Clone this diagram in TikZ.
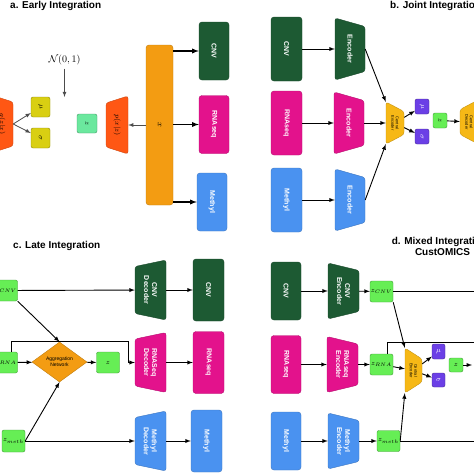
\documentclass[tikz,border=0pt]{standalone}
\usepackage{fontspec}
\setsansfont{Liberation Sans}
\usepackage{amsmath}
\usetikzlibrary{arrows,calc,shapes.geometric,positioning}

\definecolor{cnvgreen}{HTML}{1D5A33}
\definecolor{rnapink}{HTML}{E3128C}
\definecolor{methblue}{HTML}{4A92F0}
\definecolor{xorange}{HTML}{F39C12}
\definecolor{decred}{HTML}{FF5714}
\definecolor{muyellow}{HTML}{D9CF12}
\definecolor{zmint}{HTML}{6BE89E}
\definecolor{latpurple}{HTML}{6B3FE6}
\definecolor{zgreen}{HTML}{66EE55}
\definecolor{centyellow}{HTML}{F6B816}

\tikzset{
    lbl/.style={font=\sffamily\bfseries\fontsize{7}{8}\selectfont},
    smalllbl/.style={font=\sffamily\fontsize{4}{4.6}\selectfont},
    mathlbl/.style={font=\fontsize{7}{8}\selectfont},
    title/.style={font=\sffamily\bfseries\fontsize{10}{11}\selectfont, inner sep=0pt},
    omicbox/.style={rectangle, rounded corners=3pt, rotate=-90, fill=#1, draw=#1!80!black,
        text=white, minimum width=58pt, minimum height=30pt, inner sep=0pt, lbl},
    trapbox/.style={rectangle, rotate=-90, inner sep=0pt, align=center, text=white, lbl},
    latent/.style={rectangle, rounded corners=2pt, fill=#1, draw=#1!65!black, inner sep=0pt,
        minimum width=23pt, minimum height=21pt, font=\fontsize{7}{8}\selectfont},
    arr/.style={->, >=latex, line width=0.9pt},
    garr/.style={->, >=latex, gray!60!black, line width=0.8pt}
}

% options, name, colour, x, y, half width, half length, inset, text
\newcommand{\encnode}[9]{%
    \filldraw[fill=#3, draw=#3!80!black, rounded corners=2.5pt]
        (#4-#6,#5-#7) -- (#4+#6,#5-#7+#8) -- (#4+#6,#5+#7-#8) -- (#4-#6,#5+#7) -- cycle;
    \node[trapbox, minimum width=2*#7, minimum height=2*#6, #1] (#2) at (#4,#5) {#9};
}
\newcommand{\decnode}[9]{%
    \filldraw[fill=#3, draw=#3!80!black, rounded corners=2.5pt]
        (#4-#6,#5-#7+#8) -- (#4+#6,#5-#7) -- (#4+#6,#5+#7) -- (#4-#6,#5+#7-#8) -- cycle;
    \node[trapbox, minimum width=2*#7, minimum height=2*#6, #1] (#2) at (#4,#5) {#9};
}

\begin{document}
\begin{tikzpicture}[x=1pt,y=-1pt]
    \useasboundingbox (0,0) rectangle (474,474);
    \clip (0,0) rectangle (474,474);

    % a. early integration
    \node[title, anchor=west] (ta) at (10,6) {a. Early Integration};
    \encnode{text=black, mathlbl}{qenc}{decred}{2}{124}{11}{29}{7}{$q(z|x)$}
    \node[latent=muyellow, rotate=-90, minimum width=20pt, minimum height=19pt] (mua) at (40.5,107) {$\mu$};
    \node[latent=muyellow, rotate=-90, minimum width=20pt, minimum height=19pt] (siga) at (40.5,138) {$\sigma$};
    \node[font=\fontsize{10}{12}\selectfont] (prior) at (64.5,60) {$\mathcal{N}(0,1)$};
    \coordinate (zin) at (64.5,97);
    \node[latent=zmint, rotate=-90, minimum width=19pt, minimum height=20pt] (za) at (87,123.5) {$z$};
    \decnode{text=black, mathlbl}{pdec}{decred}{117}{125}{11}{29}{7}{$p(x|z)$}
    \node[omicbox=xorange, minimum width=160pt, minimum height=27pt, text=black,
        font=\fontsize{8}{9}\selectfont] (xbar) at (159.5,125) {$x$};
    \node[omicbox=cnvgreen] (cnva) at (214,51) {CNV};
    \node[omicbox=rnapink] (rnaa) at (214,124.5) {RNAseq};
    \node[omicbox=methblue] (metha) at (212,202) {Methyl};

    \draw[garr] (prior) -- (zin);
    \draw[garr] (qenc.north) -- (mua);
    \draw[garr] (qenc.north) -- (siga);
    \draw[garr] (xbar) -- (pdec);
    \draw[arr, line width=1.3pt] (xbar.north |- cnva) -- (cnva);
    \draw[arr, line width=1.3pt] (xbar.north |- rnaa) -- (rnaa);
    \draw[arr, line width=1.3pt] (xbar.north |- metha) -- (metha);

    % b. joint integration
    \node[title, anchor=west] (tb) at (390,6) {b. Joint Integration};
    \node[omicbox=cnvgreen, minimum width=64pt, minimum height=31pt] (cnvb) at (286.5,49) {CNV};
    \node[omicbox=rnapink, minimum width=64pt, minimum height=31pt] (rnab) at (286.5,123) {RNAseq};
    \node[omicbox=methblue, minimum width=64pt, minimum height=31pt] (methb) at (286.5,200) {Methyl};
    \encnode{}{encb1}{cnvgreen}{350}{49}{15}{31}{8.5}{Encoder}
    \encnode{}{encb2}{rnapink}{349}{123}{15}{31}{8.5}{Encoder}
    \encnode{}{encb3}{methblue}{350}{200}{15}{31}{8.5}{Encoder}
    \encnode{text=black, smalllbl}{centb}{centyellow}{395}{123}{9}{21}{9.5}{Central\\Encoder}
    \node[latent=latpurple, rotate=-90, minimum width=15pt, minimum height=14pt, text=white] (mub) at (422,106.5) {$\mu$};
    \node[latent=latpurple, rotate=-90, minimum width=15pt, minimum height=14pt, text=white] (sigb) at (422,136.5) {$\sigma$};
    \node[latent=zgreen, rotate=-90, minimum width=15pt, minimum height=14pt] (zb) at (440,120.5) {$z$};
    \decnode{text=black, smalllbl}{decb}{centyellow}{469}{122}{9}{22}{9.5}{Central\\Decoder}

    \draw[arr] (cnvb) -- (encb1);
    \draw[arr] (rnab) -- (encb2);
    \draw[arr] (methb) -- (encb3);
    \draw[arr] (encb1.north) -- (centb.south west);
    \draw[arr] (encb2) -- (centb);
    \draw[arr] (encb3.north) -- (centb.south east);
    \draw[arr] (centb) -- (mub);
    \draw[arr] (centb) -- (sigb);
    \draw[arr] (zb) -- (decb);

    % c. late integration
    \node[title, anchor=west] (tc) at (13,246) {c. Late Integration};
    \node[latent=zgreen] (zc1) at (6,290.5) {$z_{CNV}$};
    \node[latent=zgreen] (zc2) at (6,362.5) {$z_{RNA}$};
    \node[latent=zgreen, minimum height=22pt] (zc3) at (13.5,441) {$z_{meth}$};
    \node[diamond, aspect=1.4, fill=xorange, draw=xorange!80!black, minimum width=55pt,
        minimum height=40pt, inner sep=0pt, align=center,
        font=\sffamily\fontsize{5}{6}\selectfont] (agg) at (59.5,362) {Aggregation\\Network};
    \node[latent=zgreen] (zc) at (108,362.5) {$z$};
    \decnode{}{decc1}{cnvgreen}{150.5}{290}{15.5}{30}{6.5}{CNV\\Decoder}
    \decnode{}{decc2}{rnapink}{150.5}{362.5}{15.5}{30}{6.5}{RNASeq\\Decoder}
    \decnode{}{decc3}{methblue}{150.5}{441}{15.5}{30}{6.5}{Methyl\\Decoder}
    \node[omicbox=cnvgreen, minimum width=62pt, minimum height=31pt] (cnvc) at (208.5,290) {CNV};
    \node[omicbox=rnapink, minimum width=62pt, minimum height=31pt] (rnac) at (208.5,362.5) {RNAseq};
    \node[omicbox=methblue, minimum width=62pt, minimum height=31pt] (methc) at (206.5,441) {Methyl};
    \coordinate (turnc) at (128,341);

    \draw[arr] (zc1) -- (decc1);
    \draw[arr] (zc1.south east) -- (agg.north);
    \draw[arr] (zc2) -- (agg);
    \draw[arr] ($(zc2.north)!0.5!(zc2.north east)$) |- (turnc) |- (decc2.south);
    \draw[arr] (agg) -- (zc);
    \draw[arr] (zc3) -- (decc3);
    \draw[arr] (zc3.east) -- (agg.south);
    \draw[arr] (decc1) -- (cnvc);
    \draw[arr] (decc2) -- (rnac);
    \draw[arr] (decc3) -- (methc);

    % d. mixed integration
    \node[title, align=center] (td) at (442.5,246.5) {d. Mixed Integration :\\CustOMICS};
    \node[omicbox=cnvgreen] (cnvd) at (286,291) {CNV};
    \node[omicbox=rnapink] (rnad) at (286,364.5) {RNAseq};
    \node[omicbox=methblue] (methd) at (286,441) {Methyl};
    \encnode{}{encd1}{cnvgreen}{343.5}{291}{15.5}{28}{7.5}{CNV\\Encoder}
    \encnode{}{encd2}{rnapink}{342.5}{364.5}{15.5}{28}{7.5}{RNAseq\\Encoder}
    \encnode{}{encd3}{methblue}{343.5}{441}{15.5}{28}{7.5}{Methyl\\Encoder}
    \node[latent=zgreen] (zd1) at (381.5,291.5) {$z_{CNV}$};
    \node[latent=zgreen] (zd2) at (381.5,364.5) {$z_{RNA}$};
    \node[latent=zgreen] (zd3) at (388.5,441) {$z_{meth}$};
    \encnode{text=black, smalllbl}{centd}{centyellow}{413.5}{370.5}{8.5}{22.5}{11}{Central\\Encoder}
    \node[latent=latpurple, minimum width=13pt, minimum height=15pt, text=white] (mud) at (438.5,351.5) {$\mu$};
    \node[latent=latpurple, minimum width=13pt, minimum height=14pt, text=white] (sigd) at (438.5,380) {$\sigma$};
    \node[latent=zgreen, minimum width=14pt, minimum height=14pt] (zd) at (456,365) {$z$};
    \coordinate (outd1) at (480,291.5);
    \coordinate (outd2) at (480,342);
    \coordinate (outd3) at (480,441);
    \coordinate (outz) at (472,365);

    \draw[arr] (cnvd) -- (encd1);
    \draw[arr] (rnad) -- (encd2);
    \draw[arr] (methd) -- (encd3);
    \draw[arr] (encd1) -- (zd1);
    \draw[arr] (encd2) -- (zd2);
    \draw[arr] (encd3) -- (zd3);
    \draw[line width=0.9pt] (zd1) -- (outd1);
    \draw[line width=0.9pt] ($(zd2.north)!0.5!(zd2.north east)$) |- (outd2);
    \draw[line width=0.9pt] (zd3) -- (outd3);
    \draw[arr] (zd1.south east) -- (centd.south west);
    \draw[arr] (zd2) -- (centd);
    \draw[arr] (zd3.east) -- (centd.south east);
    \draw[arr] (centd) -- (mud);
    \draw[arr] (centd) -- (sigd);
    \draw[arr] (zd) -- (outz);
\end{tikzpicture}
\end{document}
